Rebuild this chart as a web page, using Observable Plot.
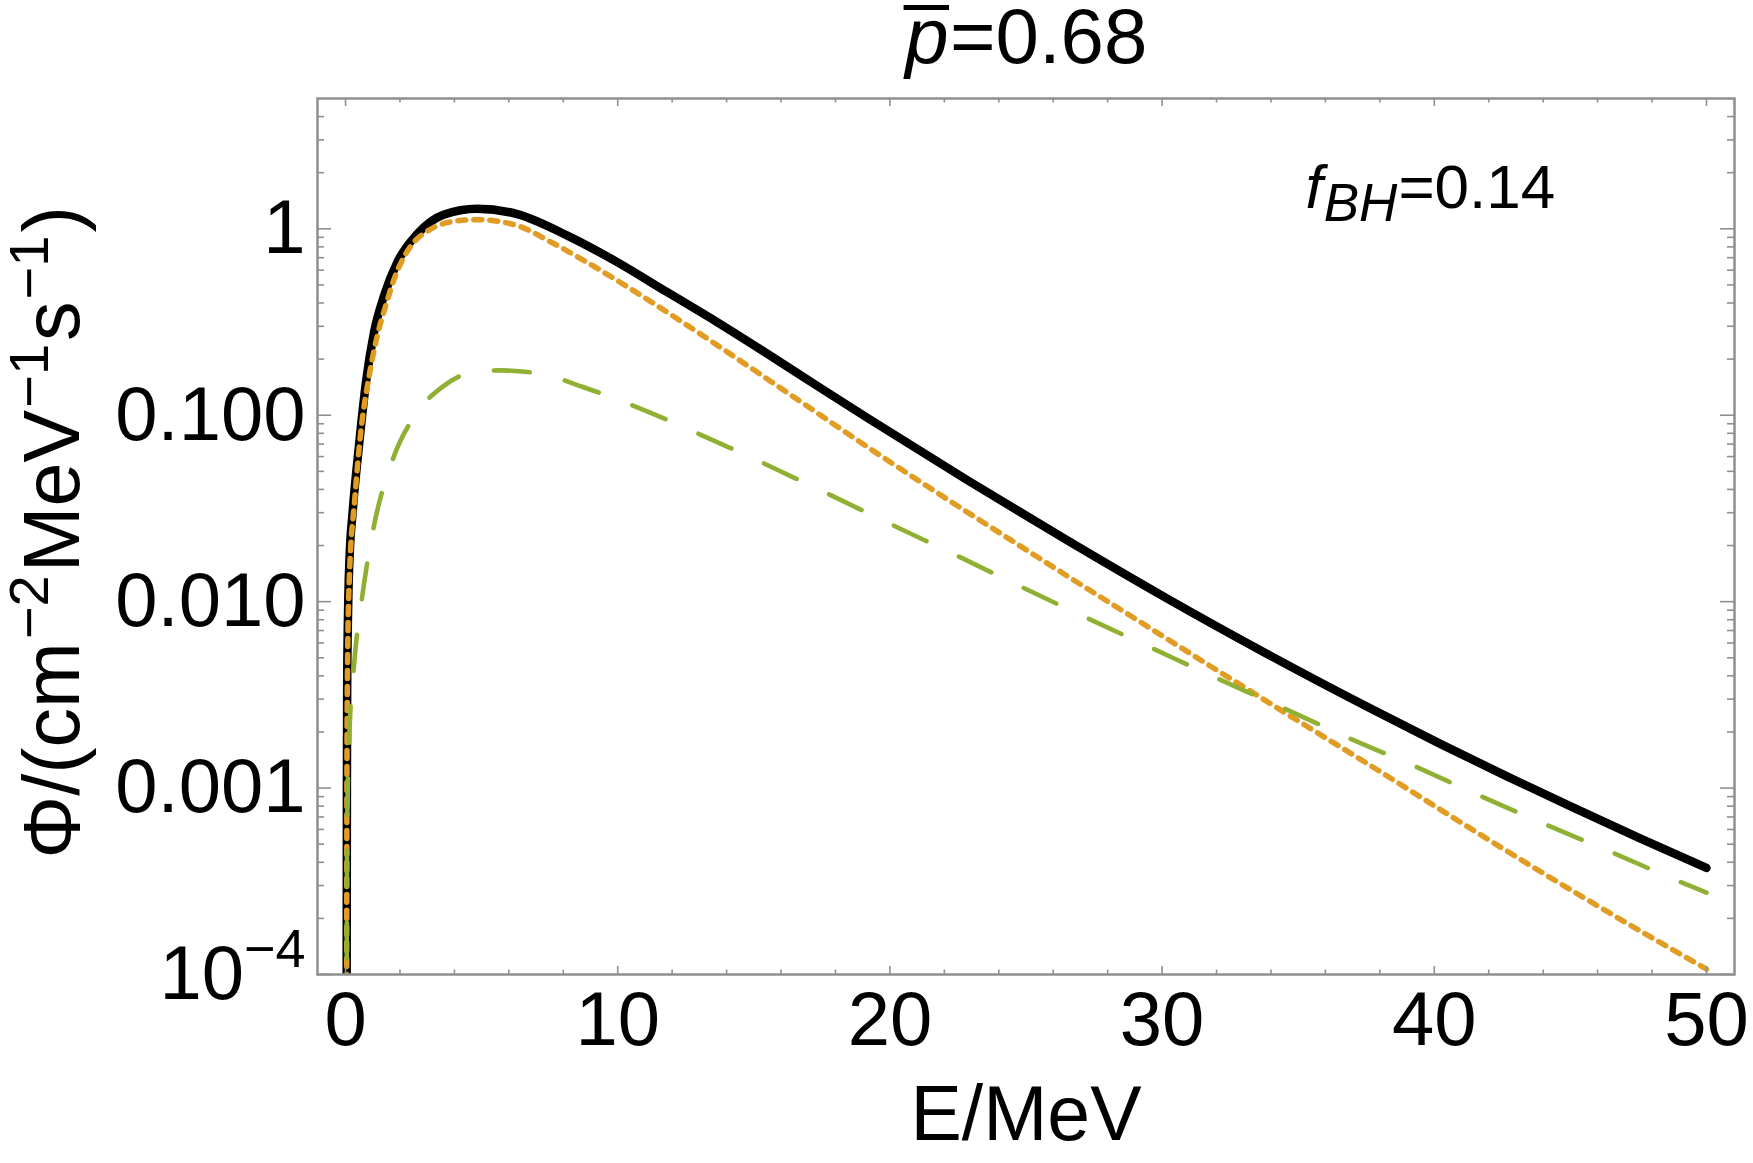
<!DOCTYPE html>
<html>
<head>
<meta charset="utf-8">
<script src="https://cdn.jsdelivr.net/npm/d3@7"></script>
<script src="https://cdn.jsdelivr.net/npm/@observablehq/plot@0.6"></script>
<style>
  html, body { margin: 0; padding: 0; background: #fff; }
  #chart svg { display: block; }
</style>
</head>
<body>
<div id="chart"></div>
<script>
// Diffuse neutrino flux spectrum: total, neutron-star-forming and black-hole-forming parts.
// Energies in MeV, flux in cm^-2 MeV^-1 s^-1.
const totalE = [0.04, 0.05, 0.06, 0.1, 0.16, 0.25, 0.5, 0.75, 1.05, 1.42, 1.91, 2.64, 3.6, 4.84, 6.31, 8.15, 9.98, 11.82, 13.65, 15.49, 17.32, 19.18, 22.85, 26.52, 30.19, 33.86, 37.77, 40.22, 42.67, 45.11, 47.56, 50];
const totalPhi = [5e-5, 0.001, 0.0036, 0.010, 0.019, 0.029, 0.07, 0.15, 0.28, 0.44, 0.665, 0.94, 1.19, 1.28, 1.20, 0.92, 0.663, 0.457, 0.316, 0.214, 0.1439, 0.0966, 0.0448, 0.0213, 0.01038, 0.00524, 0.00262, 0.001726, 0.001156, 0.000785, 0.000538, 0.000373];

const nsE = [0.04, 0.05, 0.07, 0.135, 0.34, 0.56, 0.87, 1.17, 1.48, 1.79, 2.18, 2.52, 3.0, 3.86, 4.84, 6.31, 7.54, 8.76, 9.98, 11.2, 12.43, 13.65, 14.87, 16.1, 17.26, 19.18, 21.63, 24.07, 26.52, 28.97, 31.4, 33.86, 35.33, 37.77, 40.22, 42.67, 45.11, 47.56, 50];
const nsPhi = [5e-5, 0.0009, 0.004, 0.0128, 0.0356, 0.081, 0.163, 0.268, 0.388, 0.54, 0.72, 0.85, 0.97, 1.09, 1.12, 1.04, 0.85, 0.676, 0.528, 0.408, 0.312, 0.2377, 0.1803, 0.1361, 0.1045, 0.0675, 0.0393, 0.0232, 0.01371, 0.00817, 0.00488, 0.00291, 0.00214, 0.00129, 0.000767, 0.000459, 0.000279, 0.0001714, 0.0001069];

const bhE = [0.04, 0.05, 0.07, 0.135, 0.30, 0.60, 1.02, 1.70, 2.64, 3.56, 4.6, 5.64, 7.41, 8.64, 9.92, 11.08, 12.3, 13.53, 14.75, 15.92, 17.69, 20.06, 22.46, 24.83, 27.22, 29.6, 32.0, 34.43, 36.81, 39.23, 41.6, 44.0, 46.48, 48.9, 50];
const bhPhi = [5e-5, 0.00032, 0.00076, 0.00181, 0.00433, 0.0103, 0.0245, 0.056, 0.104, 0.142, 0.169, 0.174, 0.164, 0.143, 0.1226, 0.105, 0.088, 0.073, 0.0608, 0.0505, 0.0381, 0.0259, 0.01766, 0.0120, 0.0082, 0.00566, 0.00389, 0.0027, 0.00187, 0.00132, 0.00092, 0.000646, 0.000455, 0.00032, 0.000275];

// Axis ticks and labels
const xMajorTicks = [0, 10, 20, 30, 40, 50];
const xMinorTicks = [2, 4, 6, 8, 12, 14, 16, 18, 22, 24, 26, 28, 32, 34, 36, 38, 42, 44, 46, 48];
const yMajorTicks = [1e-4, 1e-3, 1e-2, 1e-1, 1];
const yTickLabels = ["10−4", "0.001", "0.010", "0.100", "1"];
const yMinorMantissas = [2, 3, 4, 5, 6, 7, 8, 9];
const yMinorTicks = [1e-4, 1e-3, 1e-2, 1e-1]
  .flatMap(dec => yMinorMantissas.map(m => m * dec))
  .concat([2, 3, 4]);

const titleText = "p=0.68";
const noteText = "fBH=0.14";
const noteAt = {E: 35.27, Phi: 1.296};
const xLabel = "E/MeV";
const yLabel = "Φ/(cm−2MeV−1s−1)";

const rows = (E, Phi) => E.map((e, i) => ({E: e, Phi: Phi[i]}));

const W = 1753, H = 1163;
const mL = 317, mR = 19, mT = 98, mB = 189;
const innerW = W - mL - mR, innerH = H - mT - mB;
const font = "'Liberation Sans', Arial, Helvetica, sans-serif";
const gray = "#8f8f8f";
const tickStyle = {stroke: gray, strokeWidth: 1.6};

const chart = Plot.plot({
  width: W,
  height: H,
  marginLeft: mL,
  marginRight: mR,
  marginTop: mT,
  marginBottom: mB,
  style: {fontFamily: font, background: "#fff", color: "#000", overflow: "visible"},
  x: {domain: [-1.03, 51.03], axis: null},
  y: {type: "log", domain: [1e-4, 5], axis: null},
  marks: [
    // spectra
    Plot.line(rows(totalE, totalPhi), {x: "E", y: "Phi", stroke: "#000", strokeWidth: 8.5, curve: "monotone-x", clip: true, strokeLinejoin: "round"}),
    Plot.line(rows(nsE, nsPhi), {x: "E", y: "Phi", stroke: "#E19C24", strokeWidth: 5.5, strokeDasharray: "8,8", curve: "monotone-x", clip: true}),
    Plot.line(rows(bhE, bhPhi), {x: "E", y: "Phi", stroke: "#8FB032", strokeWidth: 4.6, strokeDasharray: "36,36", curve: "monotone-x", clip: true}),

    // inward frame ticks
    Plot.tickX(xMajorTicks, {x: d => d, insetTop: innerH - 8, ...tickStyle}),
    Plot.tickX(xMajorTicks, {x: d => d, insetBottom: innerH - 8, ...tickStyle}),
    Plot.tickX(xMinorTicks, {x: d => d, insetTop: innerH - 4.5, ...tickStyle}),
    Plot.tickX(xMinorTicks, {x: d => d, insetBottom: innerH - 4.5, ...tickStyle}),
    Plot.tickY(yMajorTicks, {y: d => d, insetRight: innerW - 14, ...tickStyle}),
    Plot.tickY(yMajorTicks, {y: d => d, insetLeft: innerW - 14, ...tickStyle}),
    Plot.tickY(yMinorTicks, {y: d => d, insetRight: innerW - 7, ...tickStyle}),
    Plot.tickY(yMinorTicks, {y: d => d, insetLeft: innerW - 7, ...tickStyle}),
    Plot.frame({stroke: gray, strokeWidth: 2.5}),

    // tick labels
    Plot.text(xMajorTicks, {x: d => d, frameAnchor: "bottom", dy: 70, lineAnchor: "bottom", text: d => String(d), fontSize: 76, fill: "#000"}),
    Plot.text(yMajorTicks, {y: d => d, frameAnchor: "left", dx: -12, textAnchor: "end", text: (d, i) => yTickLabels[i], fontSize: 76, fill: "#000"}),

    // axis labels, title and annotation
    Plot.text([xLabel], {frameAnchor: "bottom", dy: 165, lineAnchor: "bottom", text: d => d, fontSize: 77, fill: "#000"}),
    Plot.text([yLabel], {frameAnchor: "left", dx: -239, dy: -4, rotate: -90, textAnchor: "middle", lineAnchor: "bottom", text: d => d, fontSize: 79, fill: "#000"}),
    Plot.text([titleText], {frameAnchor: "top", dy: -36, textAnchor: "middle", lineAnchor: "bottom", text: d => d, fontSize: 78, fill: "#000"}),
    Plot.text([noteAt], {x: "E", y: "Phi", text: () => noteText, textAnchor: "start", lineAnchor: "bottom", fontSize: 62, fill: "#000"})
  ]
});

document.getElementById("chart").appendChild(chart);

// Rebuild a text element from styled pieces (italics, sub/superscripts).
function setRich(el, parts) {
  const t = d3.select(el);
  t.text(null);
  for (const p of parts) {
    const s = t.append("tspan").text(p.text);
    if (p.italic) s.attr("font-style", "italic");
    if (p.size) s.attr("font-size", p.size);
    if (p.dx != null) s.attr("dx", p.dx);
    if (p.dy != null) s.attr("dy", p.dy);
  }
}

const up = -31, sup = 56;
const richParts = {
  "10−4": [{text: "10"}, {text: "−4", size: 54, dy: -32}],
  [yLabel]: [
    {text: "Φ/(cm"},
    {text: "−2", size: sup, dx: 3, dy: up},
    {text: "MeV", dx: 3, dy: -up},
    {text: "−1", size: sup, dx: 2, dy: up},
    {text: "s", dx: 3, dy: -up},
    {text: "−1", size: sup, dx: 2, dy: up},
    {text: ")", dx: 3, dy: -up}
  ],
  [titleText]: [
    {text: "p", italic: true},
    {text: "_", dx: -44, dy: -69},
    {text: "=0.68", dx: 2, dy: 69}
  ],
  [noteText]: [
    {text: "f", italic: true},
    {text: "BH", italic: true, size: 53, dx: 1, dy: 13},
    {text: "=0.14", dx: 1, dy: -13}
  ]
};

d3.select(chart).selectAll("text").each(function () {
  const parts = richParts[this.textContent];
  if (parts) setRich(this, parts);
});
</script>
</body>
</html>
